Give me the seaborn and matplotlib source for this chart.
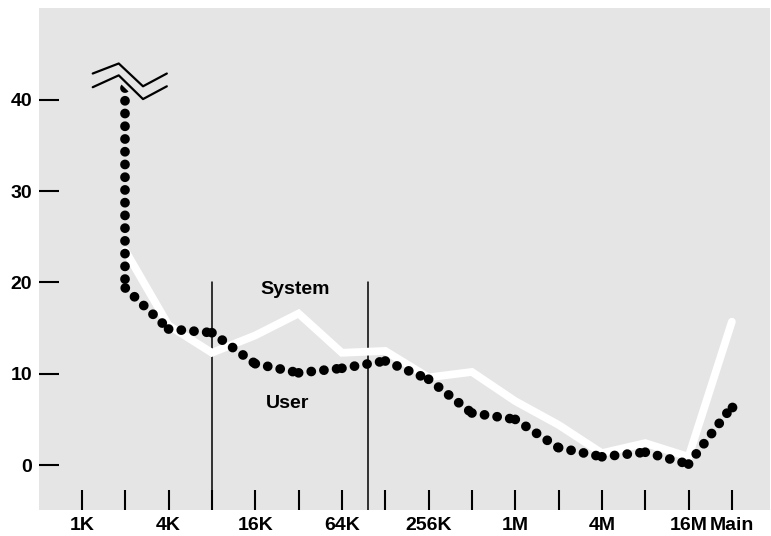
import matplotlib
matplotlib.use('Agg')
import matplotlib.pyplot as plt
import seaborn as sns
import pandas as pd
import numpy as np

# DATA ----------------------------------------------------------------------
sizes = ['1K', '2K', '4K', '8K', '16K', '32K', '64K', '128K',
         '256K', '512K', '1M', '2M', '4M', '8M', '16M', 'Main']
shown_labels = ['1K', '4K', '16K', '64K', '256K', '1M', '4M', '16M', 'Main']

# System (white) line, starts at 2K
system_vals = [23.5, 15.3, 12.3, 14.2, 16.6, 12.3, 12.5,
               9.6, 10.2, 7.0, 4.4, 1.3, 2.4, 0.9, 15.7]
# User (dotted) line, starts off-scale at 2K
user_top = 41.3
user_vals = [19.4, 14.9, 14.5, 11.1, 10.1, 10.6, 11.4,
             9.4, 5.7, 5.0, 1.9, 0.9, 1.4, 0.1, 6.4]

# vertical marker lines (x position in size index, top value)
marker_x = [3.0, 6.6]
marker_top = 20

# SETUP ---------------------------------------------------------------------
sns.set_style('white', {'axes.facecolor': '#e5e5e5'})
plt.rcParams['font.family'] = ['Liberation Sans', 'DejaVu Sans']
plt.rcParams['font.weight'] = 'bold'
plt.rcParams['text.color'] = 'black'

fig = plt.figure(figsize=(7.71, 5.36), dpi=100)
ax = fig.add_axes([39 / 771, 26 / 536, 731 / 771, 502 / 536])

idx = np.arange(1, len(sizes))
df_sys = pd.DataFrame({'x': idx, 'y': system_vals})

# user line: every segment drawn on its own so the dots restart at each vertex
ux = np.concatenate([[1], idx])
uy = np.array([user_top] + user_vals)
seg_rows = []
for k in range(len(ux) - 1):
    seg_rows.append({'x': ux[k], 'y': uy[k], 'seg': k})
    seg_rows.append({'x': ux[k + 1], 'y': uy[k + 1], 'seg': k})
df_user = pd.DataFrame(seg_rows)

sns.lineplot(data=df_sys, x='x', y='y', ax=ax, color='white', lw=5.6,
             sort=False, estimator=None, solid_joinstyle='miter', zorder=2)
sns.lineplot(data=df_user, x='x', y='y', units='seg', ax=ax, color='black',
             lw=7.0, sort=False, estimator=None, linestyle=(0, (0.01, 1.3)),
             dash_capstyle='round', zorder=3)
# closing dot at the Main end
ax.plot(ux[-1], uy[-1], 'o', color='black', ms=7.0, mew=0, zorder=3)

for mx in marker_x:
    ax.plot([mx, mx], [-10, marker_top], color='black', lw=1.1, zorder=1)

# axis break symbol
bx = np.array([0.25, 0.85, 1.41, 1.96])
upper = np.array([42.9, 44.0, 41.5, 42.9])
lower = np.array([41.4, 42.7, 40.1, 41.5])
ax.fill_between(bx, lower - 0.6, upper, color='#e5e5e5', zorder=4)
ax.plot(bx, upper, color='black', lw=1.6, zorder=5)
ax.plot(bx, lower, color='black', lw=1.6, zorder=5)

ax.text(4.92, 19.2, 'System', ha='center', va='center', fontsize=14,
        fontweight='bold', color='black')
ax.text(4.75, 6.7, 'User', ha='center', va='center', fontsize=14,
        fontweight='bold', color='black')

ax.set_xlim(-0.99, 15.88)
ax.set_ylim(-4.93, 50.08)
ax.set_xticks(range(len(sizes)))
ax.set_xticklabels([s if s in shown_labels else '' for s in sizes])
ax.set_yticks([0, 10, 20, 30, 40])
ax.tick_params(axis='both', direction='in', length=14.4, width=1.5,
               colors='black', labelsize=14, bottom=True, left=True)
ax.tick_params(axis='x', pad=5)
ax.tick_params(axis='y', pad=5)
for lbl in ax.get_xticklabels() + ax.get_yticklabels():
    lbl.set_fontweight('bold')
ax.set_xlabel('')
ax.set_ylabel('')
for sp in ax.spines.values():
    sp.set_visible(False)

fig.savefig('out.png', dpi=100)
